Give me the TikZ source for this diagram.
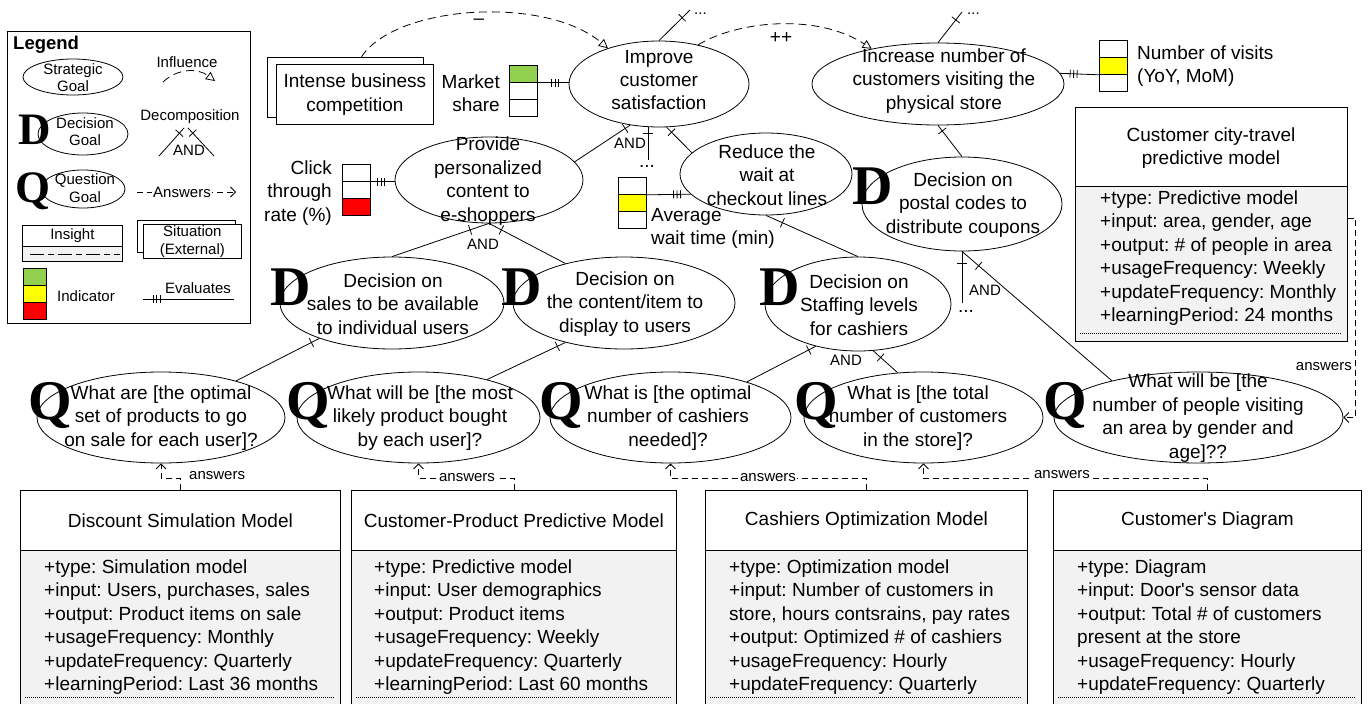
\documentclass[tikz,border=0pt]{standalone}
\usepackage{fontspec}
\setmainfont{Liberation Sans}
\newfontfamily\glyphfont{Liberation Serif}
\usetikzlibrary{shapes.geometric,arrows.meta,decorations.markings}
\newcommand\bigsz{\fontsize{19}{23.4}\selectfont}
\newcommand\smsz{\fontsize{15}{17.5}\selectfont}
\definecolor{indgreen}{HTML}{92D050}
\definecolor{indyellow}{HTML}{FFFF00}
\definecolor{indred}{HTML}{FF0000}
\definecolor{bodygray}{HTML}{F2F2F2}
\tikzset{
  goal/.style={draw, ellipse, inner sep=0pt, line width=0.8pt},
  gtext/.style={align=center, font=\bigsz, inner sep=0pt},
  ltext/.style={align=center, font=\smsz, inner sep=0pt},
  dottext/.style={font=\smsz, inner sep=0pt},
  dglyph/.style={font=\glyphfont\bfseries\fontsize{56}{56}\selectfont, inner sep=0pt},
  lglyph/.style={font=\glyphfont\bfseries\fontsize{45}{45}\selectfont, inner sep=0pt},
  box/.style={draw, rectangle, inner sep=0pt, line width=0.8pt, anchor=north west, fill=white},
  body/.style={box, fill=bodygray},
  cell/.style={draw, rectangle, inner sep=0pt, line width=0.8pt, anchor=north west, minimum width=28pt, minimum height=17pt, fill=white},
  attr/.style={align=left, font=\bigsz, inner sep=0pt, anchor=north west},
  link/.style={line width=0.8pt},
  dtick/.style={postaction={decorate, decoration={markings, mark=at position #1 with {\draw[line width=0.8pt] (0pt,-5pt) -- (0pt,5pt);}}}},
  dtick/.default=8pt,
  evtick/.style={postaction={decorate, decoration={markings,
     mark=at position -10pt with {\draw[line width=0.8pt] (0pt,-4pt) -- (0pt,4pt);},
     mark=at position -13.5pt with {\draw[line width=0.8pt] (0pt,-4pt) -- (0pt,4pt);},
     mark=at position -17pt with {\draw[line width=0.8pt] (0pt,-4pt) -- (0pt,4pt);}}}},
  influence/.style={line width=0.8pt, dash pattern=on 8pt off 5pt, -{Triangle[open,length=9pt,width=9pt]}},
  answers/.style={line width=0.8pt, dash pattern=on 6pt off 4pt, -{Straight Barb[length=5pt,width=10pt]}},
  lbl/.style={font=\smsz, inner sep=1pt},
  sepline/.style={line width=0.6pt, dash pattern=on 1pt off 1pt},
}
\begin{document}
\frenchspacing
\begin{tikzpicture}[x=1pt,y=-1pt]
\useasboundingbox (0,0) rectangle (1369,704);
\clip (0,0) rectangle (1369,704);
\fill[white] (0,0) rectangle (1369,704);

% ---------------- Legend ----------------
\node[box, minimum width=243pt, minimum height=292pt] (legend) at (7,31) {};
\node[font=\bfseries\fontsize{18.5}{20}\selectfont, anchor=west, inner sep=0pt] (legT) at (13,45) {Legend};
\node[goal, minimum width=100pt, minimum height=36pt] (lgS) at (73,77) {};
\node[ltext] (lgSt) at (73,77.5) {Strategic\\Goal};
\node[lglyph] (lgDg) at (35,130) {D};
\node[goal, minimum width=90pt, minimum height=42pt] (lgD) at (83,134) {};
\node[ltext] (lgDt) at (85,131.5) {Decision\\Goal};
\node[lglyph] (lgQg) at (33,191) {Q};
\node[goal, minimum width=84pt, minimum height=38pt] (lgQ) at (83,189) {};
\node[ltext] (lgQt) at (85,188) {Question\\Goal};
\node[ltext] (lgInf) at (187,62) {Influence};
\coordinate (lgIa) at (163,82);
\coordinate (lgIb) at (215,81);
\draw[influence] (lgIa) .. controls (178,68) and (198,68) .. (lgIb);
\node[ltext] (lgDec) at (190,117) {Decomposition};
\coordinate (lgP1) at (184,128);
\coordinate (lgL) at (159,156);
\coordinate (lgP2) at (188,128);
\coordinate (lgR) at (214,156);
\draw[link, dtick=7pt] (lgP1) -- (lgL);
\draw[link, dtick=7pt] (lgP2) -- (lgR);
\node[ltext] (lgAnd) at (189,150) {AND};
\coordinate (lgAa) at (137,192);
\coordinate (lgAb) at (236,192);
\draw[answers] (lgAa) -- (lgAb);
\node[lbl, fill=white] (lgAns) at (182,192) {Answers};
\node[box, minimum width=100pt, minimum height=21pt] (lgIns) at (22,225) {};
\node[body, minimum width=100pt, minimum height=15pt] (lgInsB) at (22,246) {};
\node[ltext] (lgInsT) at (lgIns) {Insight};
\draw[link, dash pattern=on 14pt off 4pt on 6pt off 4pt] ([xshift=8pt]lgInsB.west) -- ([xshift=-3pt]lgInsB.east);
\node[box, minimum width=98pt, minimum height=32pt] (lgSitB) at (137,220) {};
\node[box, minimum width=98pt, minimum height=34pt] (lgSit) at (143,224) {};
\node[ltext] (lgSitT) at (lgSit) {Situation\\(External)};
\node[cell, fill=indgreen, minimum width=23pt] (lgG) at (23,268) {};
\node[cell, fill=indyellow, minimum width=23pt] (lgY) at (23,285) {};
\node[cell, fill=indred, minimum width=23pt] (lgR2) at (23,302) {};
\node[ltext] (lgInd) at (86,296) {Indicator};
\node[ltext] (lgEv) at (198,288) {Evaluates};
\coordinate (lgEa) at (234,299);
\coordinate (lgEb) at (143,299);
\draw[link, evtick] (lgEa) -- (lgEb);

% ---------------- Top row ----------------
\node[box, minimum width=156pt, minimum height=60pt] (intB) at (267,57) {};
\node[box, minimum width=157pt, minimum height=60pt] (int) at (276,64) {};
\node[gtext] (intT) at (int) {Intense business\\competition};

\node[gtext, anchor=east, align=right] (mkT) at (500,93) {Market\\share};
\node[cell, fill=indgreen] (mkA) at (509,65) {};
\node[cell] (mkB) at (509,82) {};
\node[cell] (mkC) at (509,99) {};

\node[goal, minimum width=180pt, minimum height=86pt] (imp) at (659,84) {};
\node[gtext] (impT) at (659,80) {Improve\\customer\\satisfaction};

\node[goal, minimum width=252pt, minimum height=82pt] (inc) at (938,84) {};
\node[gtext] (incT) at (944,81) {Increase number of\\customers visiting the\\physical store};

\node[cell] (nvA) at (1099,40) {};
\node[cell, fill=indyellow] (nvB) at (1099,57) {};
\node[cell] (nvC) at (1099,74) {};
\node[gtext, anchor=west, align=left] (nvT) at (1137,66) {Number of visits\\(YoY, MoM)};

% ---------------- Second row ----------------
\node[gtext, anchor=east, align=right] (ctT) at (332,193) {Click\\through\\rate (\%)};
\node[cell] (ctA) at (342,164) {};
\node[cell] (ctB) at (342,181) {};
\node[cell, fill=indred] (ctC) at (342,198) {};

\node[goal, minimum width=188pt, minimum height=86pt] (prov) at (489,180) {};
\node[gtext] (provT) at (488,181) {Provide\\personalized\\content to\\e-shoppers};

\node[cell] (avA) at (618,177) {};
\node[cell, fill=indyellow] (avB) at (618,194) {};
\node[cell] (avC) at (618,211) {};
\node[gtext, anchor=west, align=left] (avT) at (651,228.5) {Average\\wait time (min)};

\node[goal, minimum width=172pt, minimum height=82pt] (red) at (766,174) {};
\node[gtext] (redT) at (767,175) {Reduce the\\wait at\\checkout lines};

\node[dglyph] (posD) at (873,186) {D};
\node[goal, minimum width=200pt, minimum height=94pt] (pos) at (962,204) {};
\node[gtext] (posT) at (963,205) {Decision on\\postal codes to\\distribute coupons};

% ---------------- Third row ----------------
\node[dglyph] (salD) at (291,287) {D};
\node[goal, minimum width=224pt, minimum height=92pt] (sal) at (392,303) {};
\node[gtext] (salT) at (393,304) {Decision on\\sales to be available\\to individual users};

\node[dglyph] (conD) at (522,287) {D};
\node[goal, minimum width=222pt, minimum height=92pt] (con) at (624,303) {};
\node[gtext] (conT) at (625,304) {Decision on\\the content/item to\\display to users};

\node[dglyph] (staD) at (780,287) {D};
\node[goal, minimum width=186pt, minimum height=94pt] (sta) at (858,304) {};
\node[gtext] (staT) at (859,305) {Decision on\\Staffing levels\\for cashiers};

% ---------------- Questions ----------------
\node[dglyph] (q1G) at (50,405) {Q};
\node[goal, minimum width=248pt, minimum height=91pt] (q1) at (161,417.5) {};
\node[gtext] (q1T) at (161,418) {What are [the optimal\\set of products to go\\on sale for each user]?};

\node[dglyph] (q2G) at (308,405) {Q};
\node[goal, minimum width=243pt, minimum height=91pt] (q2) at (418.5,417.5) {};
\node[gtext] (q2T) at (420,418) {What will be [the most\\likely product bought\\by each user]?};

\node[dglyph] (q3G) at (561,405) {Q};
\node[goal, minimum width=241pt, minimum height=91pt] (q3) at (670.5,417.5) {};
\node[gtext] (q3T) at (668,418) {What is [the optimal\\number of cashiers\\needed]?};

\node[dglyph] (q4G) at (816,405) {Q};
\node[goal, minimum width=239pt, minimum height=91pt] (q4) at (923.5,417.5) {};
\node[gtext] (q4T) at (918,418) {What is [the total\\number of customers\\in the store]?};

\node[dglyph] (q5G) at (1065,405) {Q};
\node[goal, minimum width=289pt, minimum height=91pt] (q5) at (1198.5,417.5) {};
\node[gtext] (q5T) at (1198,418) {What will be [the\\number of people visiting\\an area by gender and\\age]??};

% ---------------- Insight boxes ----------------
\node[box, minimum width=272pt, minimum height=79pt] (ccmH) at (1075,107) {};
\node[body, minimum width=272pt, minimum height=155pt] (ccmB) at (1075,186) {};
\node[gtext] (ccmT) at (1211,148) {Customer city-travel\\predictive model};
\node[attr] (ccmA) at (1100,188) {\strut+type: Predictive model\\+input: area, gender, age\\+output: \# of people in area\\+usageFrequency: Weekly\\+updateFrequency: Monthly\\+learningPeriod: 24 months};
\draw[sepline] (1080,333) -- (1342,333);

\node[box, minimum width=320pt, minimum height=60pt] (dsmH) at (20,490) {};
\node[body, minimum width=320pt, minimum height=230pt] (dsmB) at (20,550) {};
\node[gtext] (dsmT) at (dsmH) {Discount Simulation Model};
\node[attr] (dsmA) at (44,557) {\strut+type: Simulation model\\+input: Users, purchases, sales\\+output: Product items on sale\\+usageFrequency: Monthly\\+updateFrequency: Quarterly\\+learningPeriod: Last 36 months};
\draw[sepline] (25,697) -- (335,697);

\node[box, minimum width=325pt, minimum height=60pt] (cpmH) at (351,490) {};
\node[body, minimum width=325pt, minimum height=230pt] (cpmB) at (351,550) {};
\node[gtext] (cpmT) at (cpmH) {Customer-Product Predictive Model};
\node[attr] (cpmA) at (374,557) {\strut+type: Predictive model\\+input: User demographics\\+output: Product items\\+usageFrequency: Weekly\\+updateFrequency: Quarterly\\+learningPeriod: Last 60 months};
\draw[sepline] (356,697) -- (671,697);

\node[box, minimum width=322pt, minimum height=60pt] (comH) at (705,490) {};
\node[body, minimum width=322pt, minimum height=230pt] (comB) at (705,550) {};
\node[gtext] (comT) at (comH) {Cashiers Optimization Model};
\node[attr] (comA) at (729,557) {\strut+type: Optimization model\\+input: Number of customers in\\store, hours contsrains, pay rates\\+output: Optimized \# of cashiers\\+usageFrequency: Hourly\\+updateFrequency: Quarterly};
\draw[sepline] (710,697) -- (1022,697);

\node[box, minimum width=308pt, minimum height=60pt] (cdH) at (1053,490) {};
\node[body, minimum width=308pt, minimum height=230pt] (cdB) at (1053,550) {};
\node[gtext] (cdT) at (cdH) {Customer\textquotesingle s Diagram};
\node[attr] (cdA) at (1077,557) {\strut+type: Diagram\\+input: Door\textquotesingle s sensor data\\+output: Total \# of customers\\present at the store\\+usageFrequency: Hourly\\+updateFrequency: Quarterly};
\draw[sepline] (1058,697) -- (1356,697);

% ---------------- Connectors: influence ----------------
\draw[influence] ([xshift=16pt]intB.north) .. controls (395,5) and (545,-5) .. (imp.145);
\node[gtext] (infM) at (479,22) {--};
\draw[influence] (imp.45) .. controls (735,22) and (815,12) .. (inc.152);
\node[gtext] (infPP) at (781,38) {++};

% ---------------- Connectors: evaluates ----------------
\draw[link, evtick] (mkA.south east) -- (imp.west |- mkA.south east);
\draw[link, evtick] (nvB.south west) -- (inc.5);
\draw[link, evtick] (ctA.south east) -- (prov.west |- ctA.south east);
\draw[link, evtick] (avA.south east) -- (red.195);

% ---------------- Connectors: decomposition ----------------
\coordinate (impUp) at (690,10);
\draw[link, dtick=-11pt] (imp.north) -- (impUp);
\node[dottext, anchor=base west] (impUpT) at (694,14) {...};
\coordinate (incUp) at (962,12);
\draw[link, dtick=-10pt] (inc.north) -- (incUp);
\node[dottext, anchor=base west] (incUpT) at (967,14) {...};

\draw[link, dtick=6pt] (imp.235) -- (prov.12);
\coordinate (impDots) at (imp.256 |- 0,160);
\draw[link, dtick=6pt] (imp.256) -- (impDots);
\node[gtext] (impDotsT) at (647,166) {...};
\draw[link, dtick=7pt] (imp.280) -- (red.164);
\node[ltext] (impAnd) at (630,143) {AND};

\draw[link, dtick=20pt] (prov.south) -- (sal.north);
\draw[link, dtick=14pt] (prov.south) -- (con.146);
\node[ltext] (provAnd) at (483,244) {AND};

\draw[link, dtick=9pt] (sal.206) -- (q1.26);
\draw[link, dtick=9pt] (con.214) -- (q2.29);
\draw[link, dtick=18pt] (red.south) -- (sta.north);
\draw[link, dtick=7pt] (inc.south) -- (pos.north);

\coordinate (posDots) at (pos.south |- 0,303);
\draw[link, dtick=12pt] (pos.south) -- (posDots);
\node[gtext] (posDotsT) at (966,311) {...};
\draw[link, dtick=22pt] (pos.south) -- (q5.157);
\node[ltext] (posAnd) at (985,290) {AND};

\draw[link, dtick=8pt] (sta.225) -- (q3.25);
\draw[link, dtick=10pt] (sta.288) -- (q4.120);
\node[ltext] (staAnd) at (846,360) {AND};

% ---------------- Connectors: answers ----------------
\draw[answers] (dsmH.north) -- ++(0,-12) -| (q1.south);
\node[lbl, anchor=west] (ans1) at (188,476) {answers};
\draw[answers] (cpmH.north) -- ++(0,-12) -| (q2.south);
\node[lbl, fill=white] (ans2) at (467,478) {answers};
\draw[answers] (comH.north) -- ++(0,-12) -| (q3.south);
\node[lbl, fill=white] (ans3) at (768,478) {answers};
\draw[answers] (cdH.north) -- ++(0,-12) -| (q4.south);
\node[lbl, fill=white] (ans4) at (1062,475) {answers};
\draw[answers] ([yshift=-32pt]ccmB.north east) -- ++(8,0) |- (q5.east);
\node[lbl, anchor=east] (ans5) at (1353,367) {answers};
\end{tikzpicture}
\end{document}
